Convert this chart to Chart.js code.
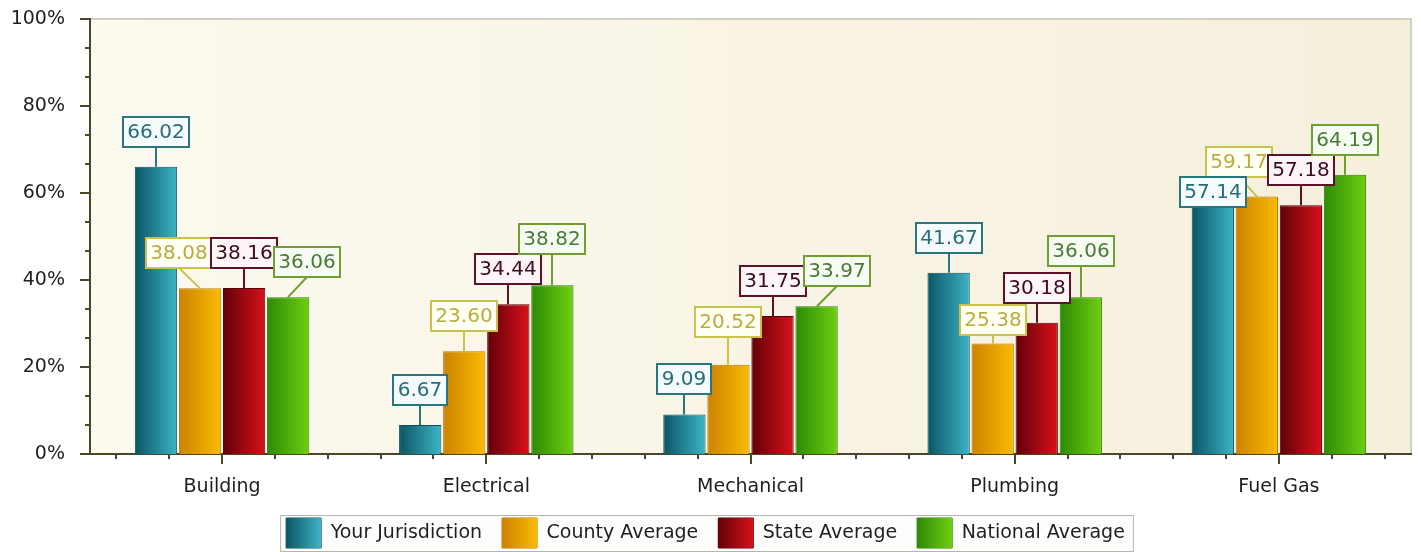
<!DOCTYPE html>
<html><head><meta charset="utf-8">
<script src="https://cdn.jsdelivr.net/npm/chart.js@4.4.0/dist/chart.umd.min.js"></script>
<style>html,body{margin:0;padding:0;background:#fff;}canvas{display:block;}</style>
</head><body>
<canvas id="c" width="1421" height="552"></canvas>
<script>
// ---- data ----
const categories = ['Building', 'Electrical', 'Mechanical', 'Plumbing', 'Fuel Gas'];
const seriesNames = ['Your Jurisdiction', 'County Average', 'State Average', 'National Average'];
const yourJurisdiction = [66.02, 6.67, 9.09, 41.67, 57.14];
const countyAverage   = [38.08, 23.60, 20.52, 25.38, 59.17];
const stateAverage    = [38.16, 34.44, 31.75, 30.18, 57.18];
const nationalAverage = [36.06, 38.82, 33.97, 36.06, 64.19];
const yTickValues = [0, 20, 40, 60, 80, 100];

// ---- styles ----
const FONT = '"DejaVu Sans", Verdana, sans-serif';
const barStyles = [
  {dark: '#0b5564', light: '#3db4c6', mid: '#1f8797', border: '#0d4f5b', text: '#2a6b77', lbBorder: '#2b7580', lbFill: '#f3fbfc'},
  {dark: '#cc8200', light: '#f9bb06', mid: '#e9a300', border: '#b57a00', text: '#b8ad3e', lbBorder: '#cbc24c', lbFill: '#fffff3'},
  {dark: '#620008', light: '#d8121c', mid: '#a00010', border: '#560008', text: '#3c0b1f', lbBorder: '#5c1329', lbFill: '#fdf5f6'},
  {dark: '#2c8a06', light: '#70cf10', mid: '#4eae0a', border: '#2f7d04', text: '#4a7a37', lbBorder: '#6d9f33', lbFill: '#f6fcf1'}
];
// label displacement (dx, dy) to avoid overlaps, per series per category
const labelShift = [
  [[0, 0], [0, 0], [0, 0], [0, 0], [0, 22]],
  [[-21, 0], [0, 0], [0, -8], [0, 11], [-18, 0]],
  [[0, 0], [0, 0], [0, 0], [0, 0], [0, 0]],
  [[19, 0], [0, -11], [20, 0], [0, -11], [0, 0]]
];
const seriesData = [yourJurisdiction, countyAverage, stateAverage, nationalAverage];

// ---- plugins ----
const backgroundPlugin = {
  id: 'bg',
  beforeDraw(chart) {
    const {ctx, chartArea: a} = chart;
    ctx.save();
    ctx.fillStyle = '#ffffff';
    ctx.fillRect(0, 0, chart.width, chart.height);
    const g = ctx.createLinearGradient(a.left, 0, a.right, 0);
    g.addColorStop(0, '#fcf9ef');
    g.addColorStop(1, '#f5efdc');
    ctx.fillStyle = g;
    ctx.fillRect(a.left, a.top, a.right - a.left, a.bottom - a.top);
    ctx.strokeStyle = '#cfcfc2';
    ctx.lineWidth = 2;
    ctx.beginPath();
    ctx.moveTo(a.left, a.top);
    ctx.lineTo(a.right, a.top);
    ctx.lineTo(a.right, a.bottom);
    ctx.stroke();
    // legend frame
    const lg = chart.legend;
    if (lg && lg.legendHitBoxes && lg.legendHitBoxes.length) {
      const hb = lg.legendHitBoxes;
      const l = Math.min(...hb.map(h => h.left)) - 6;
      const r = Math.max(...hb.map(h => h.left + h.width)) + 8;
      const t = hb[0].top - 3, b = hb[0].top + hb[0].height + 3;
      ctx.fillStyle = '#fdfdfb';
      ctx.fillRect(l, t, r - l, b - t);
      ctx.strokeStyle = '#b4b4b0';
      ctx.lineWidth = 1;
      ctx.strokeRect(l + 0.5, t + 0.5, r - l, b - t);
    }
    ctx.restore();
  }
};

const gradientPlugin = {
  id: 'grad',
  beforeDatasetsDraw(chart) {
    const ctx = chart.ctx;
    chart.data.datasets.forEach((ds, di) => {
      const st = barStyles[di];
      chart.getDatasetMeta(di).data.forEach(el => {
        const x0 = el.x - el.width / 2, x1 = el.x + el.width / 2;
        const g = ctx.createLinearGradient(x0, 0, x1, 0);
        g.addColorStop(0, st.dark);
        g.addColorStop(1, st.light);
        el.options = Object.assign({}, el.options, {backgroundColor: g});
      });
    });
  }
};

const ticksPlugin = {
  id: 'ticks',
  afterDraw(chart) {
    const {ctx, scales: {x, y}, chartArea: a} = chart;
    ctx.save();
    ctx.strokeStyle = '#4a4626';
    ctx.lineWidth = 2;
    ctx.beginPath();
    for (let v = 0; v <= 100.001; v += 20 / 3) {
      const py = Math.round(y.getPixelForValue(v));
      const major = Math.abs(v / 20 - Math.round(v / 20)) < 1e-6;
      ctx.moveTo(a.left - (major ? 10 : 5), py);
      ctx.lineTo(a.left, py);
    }
    const cw = (x.right - x.left) / categories.length;
    categories.forEach((c, i) => {
      const cx = x.getPixelForValue(i);
      ctx.moveTo(Math.round(cx), a.bottom);
      ctx.lineTo(Math.round(cx), a.bottom + 10);
      [-0.4, -0.2, 0.2, 0.4].forEach(f => {
        const px = Math.round(cx + f * cw);
        ctx.moveTo(px, a.bottom);
        ctx.lineTo(px, a.bottom + 5);
      });
    });
    ctx.stroke();
    // legend swatch gradients
    const lg = chart.legend;
    if (lg && lg.legendHitBoxes) {
      const bw = lg.options.labels.boxWidth, bh = lg.options.labels.boxHeight;
      lg.legendHitBoxes.forEach((h, i) => {
        const st = barStyles[i];
        const g = ctx.createLinearGradient(h.left, 0, h.left + bw, 0);
        g.addColorStop(0, st.dark);
        g.addColorStop(1, st.light);
        ctx.fillStyle = g;
        ctx.fillRect(h.left, h.top + (h.height - bh) / 2, bw, bh);
      });
    }
    ctx.restore();
  }
};

const labelPlugin = {
  id: 'valueLabels',
  afterDatasetsDraw(chart) {
    const ctx = chart.ctx;
    ctx.save();
    ctx.font = '20px ' + FONT;
    ctx.textAlign = 'center';
    ctx.textBaseline = 'middle';
    const order = [1, 0, 2, 3];
    const boxes = [];
    order.forEach(di => {
      const st = barStyles[di];
      chart.getDatasetMeta(di).data.forEach((el, i) => {
        const v = chart.data.datasets[di].data[i];
        const txt = v.toFixed(2);
        const w = Math.round(ctx.measureText(txt).width + 9);
        const h = 30;
        const [dx, dy] = labelShift[di][i];
        const cx = Math.round(el.x + dx);
        const bottom = Math.round(el.y - 20 + dy);
        boxes.push({di, st, txt, w, h, cx, bottom, bx: el.x, by: el.y});
      });
    });
    // connectors
    ctx.lineWidth = 2;
    boxes.forEach(b => {
      if (b.bottom < b.by - 1) {
        ctx.strokeStyle = b.st.lbBorder;
        ctx.beginPath();
        ctx.moveTo(b.cx, b.bottom);
        ctx.lineTo(Math.round(b.bx), b.by);
        ctx.stroke();
      }
    });
    boxes.forEach(b => {
      const l = Math.round(b.cx - b.w / 2), t = b.bottom - b.h;
      ctx.fillStyle = b.st.lbFill;
      ctx.fillRect(l, t, b.w, b.h);
      ctx.strokeStyle = b.st.lbBorder;
      ctx.lineWidth = 2;
      ctx.strokeRect(l, t, b.w, b.h);
      ctx.fillStyle = b.st.text;
      ctx.fillText(b.txt, b.cx, t + b.h / 2 + 1);
    });
    ctx.restore();
  }
};

const legendShiftPlugin = {
  id: 'legendShift',
  afterLayout(chart) {
    // place legend items so their swatches start at y = 518
    const lg = chart.legend;
    if (lg) {
      const d = 518 - (lg.top + lg.options.labels.padding);
      lg.top += d; lg.bottom += d;
    }
  }
};

// ---- chart ----
const datasets = seriesNames.map((name, i) => ({
  label: name,
  data: seriesData[i],
  backgroundColor: barStyles[i].mid,
  borderColor: barStyles[i].border,
  borderWidth: 1,
  borderSkipped: 'bottom',
  categoryPercentage: 0.667,
  barPercentage: 0.96
}));

new Chart(document.getElementById('c'), {
  type: 'bar',
  data: {labels: categories, datasets},
  options: {
    responsive: false,
    animation: false,
    events: [],
    layout: {padding: {top: 19, right: 10, left: 0, bottom: -10}},
    plugins: {
      legend: {
        position: 'bottom',
        labels: {
          font: {family: FONT, size: 19},
          color: '#1e1e1e',
          boxWidth: 35,
          boxHeight: 30,
          padding: 20
        }
      },
      tooltip: {enabled: false},
      title: {display: false}
    },
    scales: {
      x: {
        type: 'category',
        offset: true,
        grid: {display: false, drawTicks: false},
        border: {display: true, color: '#4a4626', width: 2},
        ticks: {font: {family: FONT, size: 19}, color: '#1e1e1e', padding: 22, maxRotation: 0},
        afterFit(s) { s.height = 48; s.paddingLeft = 0; s.paddingRight = 0; }
      },
      y: {
        min: 0, max: 100,
        grid: {display: false, drawTicks: false},
        border: {display: true, color: '#4a4626', width: 2},
        afterBuildTicks(s) { s.ticks = yTickValues.map(v => ({value: v})); },
        ticks: {font: {family: FONT, size: 19}, color: '#1e1e1e', padding: 25, callback: v => v + '%'},
        afterFit(s) { s.width = 90; s.paddingTop = 0; s.paddingBottom = 0; }
      }
    }
  },
  plugins: [backgroundPlugin, gradientPlugin, labelPlugin, ticksPlugin, legendShiftPlugin]
});
</script>
</body></html>
